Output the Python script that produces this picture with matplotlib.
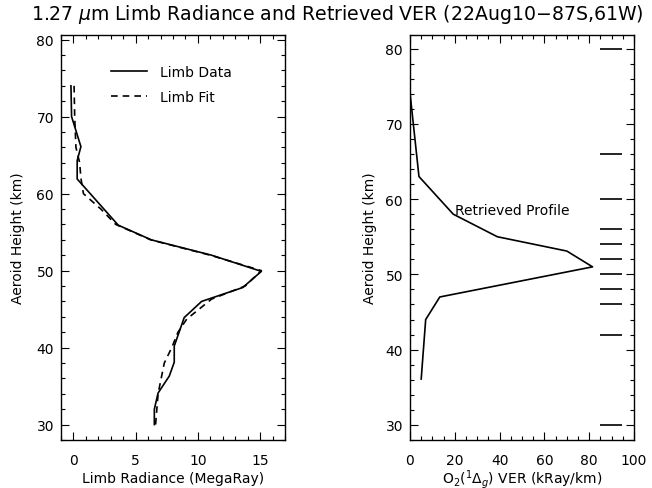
import numpy as np
import matplotlib
matplotlib.use("Agg")
import matplotlib.pyplot as plt
from matplotlib.ticker import MultipleLocator

# limb radiance (MegaRay) vs aeroid height (km)
data_alt = [74, 70, 66.1, 64.3, 61.9, 55.9, 54.0, 52.0, 49.9, 47.8, 46.0, 43.9, 40.2, 38.1, 36.3, 34.1, 32.0, 30.0]
data_rad = [-0.2, -0.15, 0.6, 0.3, 0.3, 3.6, 6.25, 11.1, 15.1, 13.6, 10.3, 8.9, 8.1, 8.1, 7.7, 6.8, 6.5, 6.5]

fit_alt = [74, 70, 66, 64, 62, 60, 58, 56, 54, 52, 50, 48, 46.3, 43.7, 42, 40, 38, 36, 34, 32, 30]
fit_rad = [0.05, 0.1, 0.2, 0.5, 0.6, 0.8, 2.2, 3.4, 6.2, 11.0, 15.1, 13.8, 11.1, 9.1, 8.4, 7.9, 7.3, 7.05, 6.8, 6.7, 6.6]

# retrieved VER (kRay/km)
ver_alt = [74.1, 63.0, 58.0, 55.0, 53.1, 51.0, 47.0, 44.0, 36.1]
ver_val = [0, 4, 19.3, 39, 70, 81.5, 13.3, 7, 5]

# retrieval grid markers
grid_alt = [80, 66, 60, 56, 54, 52, 50, 48, 46, 42, 30]

plt.rcParams['font.family'] = ['DejaVu Sans']
plt.rcParams['font.size'] = 10

fig = plt.figure(figsize=(6.52, 4.89), dpi=100)
ax1 = fig.add_axes([61/652, 1-441/489, 224/652, 405/489])
ax2 = fig.add_axes([410/652, 1-441/489, 224/652, 405/489])

def style(ax):
    ax.tick_params(which='both', direction='in', top=True, right=True, labelsize=10)
    ax.tick_params(which='major', length=6, width=0.8)
    ax.tick_params(which='minor', length=3, width=0.8)
    ax.tick_params(axis='x', which='major', pad=9.5)
    ax.tick_params(axis='y', which='major', pad=5)
    for s in ax.spines.values():
        s.set_linewidth(1.0)

# left panel
ax1.plot(data_rad, data_alt, color='black', lw=1.2, label='Limb Data')
ax1.plot(fit_rad, fit_alt, color='black', lw=1.2, dashes=(4, 3), label='Limb Fit')
ax1.set_xlim(-1, 17)
ax1.set_ylim(28, 80.6)
ax1.xaxis.set_major_locator(MultipleLocator(5))
ax1.xaxis.set_minor_locator(MultipleLocator(1))
ax1.yaxis.set_major_locator(MultipleLocator(10))
ax1.yaxis.set_minor_locator(MultipleLocator(2))
ax1.set_xlabel('Limb Radiance (MegaRay)', va='baseline')
ax1.xaxis.set_label_coords(0.5, -0.104)
ax1.set_ylabel('Aeroid Height (km)')
ax1.yaxis.set_label_coords(-0.16, 0.5)
ax1.legend(loc='upper left', bbox_to_anchor=(0.167, 0.957), frameon=False,
           handlelength=2.6, handletextpad=0.95, fontsize=10, labelspacing=0.8)
style(ax1)

# right panel
ax2.plot(ver_val, ver_alt, color='black', lw=1.2)
ax2.hlines(grid_alt, 85, 94.5, color='black', lw=1.2)
ax2.text(20, 58.5, 'Retrieved Profile', va='center', ha='left', fontsize=10)
ax2.set_xlim(0, 100)
ax2.set_ylim(28, 81.8)
ax2.xaxis.set_major_locator(MultipleLocator(20))
ax2.xaxis.set_minor_locator(MultipleLocator(5))
ax2.yaxis.set_major_locator(MultipleLocator(10))
ax2.yaxis.set_minor_locator(MultipleLocator(2))
ax2.set_xlabel(r'O$_2$($^1\Delta_g$) VER (kRay/km)', va='baseline')
ax2.xaxis.set_label_coords(0.5, -0.104)
ax2.set_ylabel('Aeroid Height (km)')
ax2.yaxis.set_label_coords(-0.147, 0.5)
style(ax2)

fig.text(0.518, 0.97, r'1.27 $\mu$m Limb Radiance and Retrieved VER (22Aug10$-$87S,61W)',
         ha='center', va='center', fontsize=13.6)

fig.savefig('out.png', dpi=100)
